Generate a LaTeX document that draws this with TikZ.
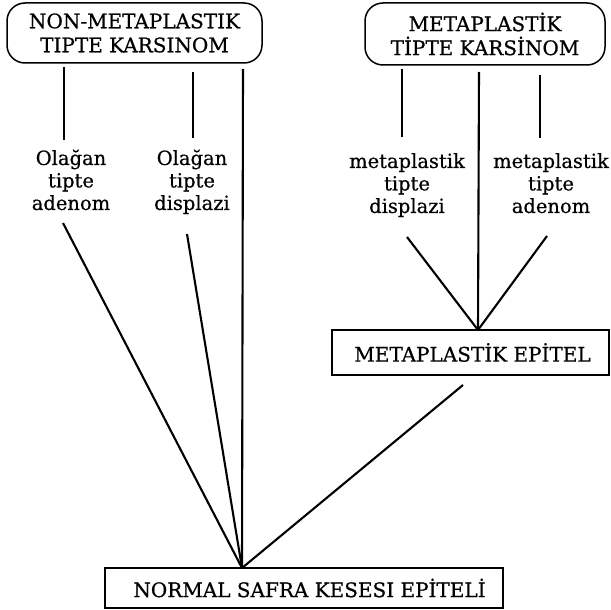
\documentclass[tikz,border=0pt]{standalone}
\usepackage{fontspec}
\setmainfont{DejaVu Serif}[FakeBold=0.6]
\begin{document}
\begin{tikzpicture}[x=1pt,y=-1pt,
  boxfont/.style={font=\fontsize{20}{24}\selectfont},
  rbox/.style={draw, line width=1.5pt, rounded corners=18pt, inner sep=0pt, align=center, boxfont},
  sbox/.style={draw, line width=1.3pt, inner sep=0pt, boxfont},
  lbl/.style={inner sep=0pt, anchor=north, align=center, font=\fontsize{19.5}{22.5}\selectfont},
  conn/.style={line width=2.1pt},
  stub/.style={line width=2.8pt}]
\useasboundingbox (0,0) rectangle (611,610);

% boxes
\node[rbox, minimum width=255pt, minimum height=60pt] (nmk) at (134.5,33) {NON-METAPLASTIK\\TIPTE KARSINOM};
\node[rbox, minimum width=240pt, minimum height=62pt] (mk) at (485,34) {METAPLASTİK\\TİPTE KARSİNOM};
\node[sbox, minimum width=277pt, minimum height=45pt] (me) at (470.5,352.5) {\hspace*{4pt}METAPLASTİK EPİTEL};
\node[sbox, minimum width=398pt, minimum height=40pt] (nse) at (304,588) {\hspace*{11pt}NORMAL SAFRA KESESI EPİTELİ};

% labels
\node[lbl] (la) at (71,149) {\strut Olağan\\\strut tipte\\\strut adenom};
\node[lbl] (ld) at (192,149) {\strut Olağan\\\strut tipte\\\strut displazi};
\node[lbl] (md) at (407,152) {\strut metaplastik\\\strut tipte\\\strut displazi};
\node[lbl] (ma) at (551,152) {\strut metaplastik\\\strut tipte\\\strut adenom};

% connector end points
\coordinate (a1) at (64,67);   \coordinate (a2) at (64,140);
\coordinate (b1) at (193,72);  \coordinate (b2) at (193,138);
\coordinate (c1) at (243,69);
\coordinate (r1) at (402,69);  \coordinate (r2) at (402,137);
\coordinate (s1) at (479,72);
\coordinate (t1) at (540,75);  \coordinate (t2) at (540,138);
\coordinate (la2) at (63,223);
\coordinate (ld2) at (187,234);
\coordinate (md2) at (407,237);
\coordinate (ma2) at (547,236);
\coordinate (me2) at (463,385);
\coordinate (napex) at (242,568);
\coordinate (mapex) at (478,330);

% upper stubs
\draw[stub] (a1) -- (a2);
\draw[stub] (b1) -- (b2);
\draw[stub] (r1) -- (r2);
\draw[stub] (t1) -- (t2);

% long lines
\draw[conn] (c1) -- (napex);
\draw[conn] (s1) -- (mapex);

% diagonals
\draw[conn] (la2) -- (napex);
\draw[conn] (ld2) -- (napex);
\draw[conn] (me2) -- (napex);
\draw[conn] (md2) -- (mapex);
\draw[conn] (ma2) -- (mapex);
\end{tikzpicture}
\end{document}
